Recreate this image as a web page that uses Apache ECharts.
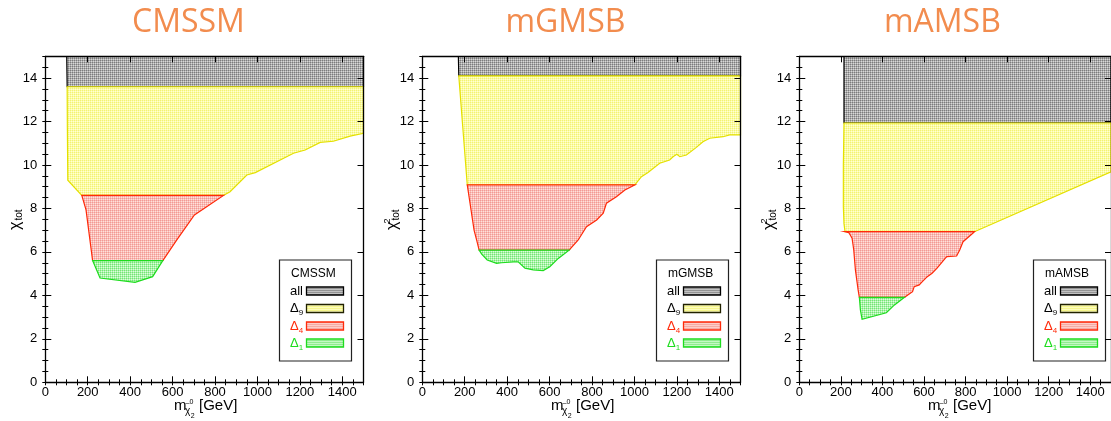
<!DOCTYPE html>
<html>
<head>
<meta charset="utf-8">
<script src="https://cdn.jsdelivr.net/npm/echarts@6/dist/echarts.min.js"></script>
<style>
  html, body { margin: 0; padding: 0; background: #fff; }
  #chart { width: 1111px; height: 421px; }
</style>
</head>
<body>
<div id="chart"></div>
<script>
// Model names (panel titles and legend headers)
const models = ['CMSSM', 'mGMSB', 'mAMSB'];

// Lower envelope of chi^2_tot versus m(neutralino_2) [GeV, chi2] for each model
const cmssmBoundary = [[101, 15], [103, 13.6], [104, 11.7], [106, 9.3], [172, 8.6], [192, 7.93], [223, 5.6],
  [258, 4.8], [423, 4.6], [506, 4.86], [554, 5.6], [620, 6.55], [703, 7.7], [840, 8.6], [871, 8.77],
  [950, 9.54], [990, 9.65], [1170, 10.54], [1225, 10.69], [1296, 11.04], [1358, 11.09], [1437, 11.33],
  [1500, 11.46]];
const mgmsbBoundary = [[170, 15], [172, 14.1], [193, 11.46], [212, 9.08], [225, 8.24], [244, 7.0],
  [256, 6.55], [268, 6.08], [280, 5.9], [306, 5.63], [350, 5.47], [373, 5.5], [429, 5.54], [452, 5.54],
  [484, 5.25], [523, 5.17], [570, 5.14], [601, 5.32], [641, 5.7], [692, 6.08], [735, 6.55], [774, 7.16],
  [822, 7.47], [853, 7.78], [868, 8.24], [915, 8.54], [955, 8.85], [1002, 9.08], [1033, 9.46],
  [1064, 9.65], [1119, 10.08], [1166, 10.23], [1182, 10.38], [1200, 10.49], [1214, 10.38], [1245, 10.46],
  [1292, 10.81], [1323, 11.07], [1355, 11.23], [1418, 11.3], [1449, 11.38], [1500, 11.38]];
const mamsbBoundary = [[215, 15], [215, 11.93], [212, 10.0], [212, 8.08], [215, 7.3], [220, 6.93],
  [238, 6.89], [254, 6.63], [262, 6.09], [270, 5.17], [283, 4.25], [289, 3.91], [294, 3.33], [302, 2.9],
  [419, 3.2], [458, 3.56], [506, 3.91], [545, 4.17], [553, 4.4], [577, 4.48], [592, 4.63], [616, 4.86],
  [639, 5.02], [663, 5.25], [702, 5.7], [710, 5.78], [757, 5.81], [772, 6.09], [788, 6.47], [835, 6.86],
  [843, 6.93], [1500, 9.68]];

// chi^2 levels bounding the Delta_1, Delta_4, Delta_9 bands
const cmssmLevels = [5.6, 8.6, 13.6];
const mgmsbLevels = [6.08, 9.08, 14.1];
const mamsbLevels = [3.91, 6.93, 11.93];

// Legend entries (label, subscript)
const bandLabels = [['all', ''], ['Δ', '9'], ['Δ', '4'], ['Δ', '1']];

// Axis ranges and tick steps
const xRange = [0, 1500];
const yRange = [0, 15];
const xMajor = 200, xMinor = 50;
const yMajor = 2, yMinor = 0.5;

const boundaries = [cmssmBoundary, mgmsbBoundary, mamsbBoundary];
const levels = [cmssmLevels, mgmsbLevels, mamsbLevels];

// ---- styling ----
const gridLefts = [45.3, 422.3, 799.3];
const gridTop = 56.3, gridW = 318.2, gridH = 326;
const TICK_FONT = 'Liberation Sans';

// 2x2 dotted texture: dark / mid / mid / light
function makePattern(dark, mid, light) {
  const c = document.createElement('canvas');
  c.width = 2; c.height = 2;
  const g = c.getContext('2d');
  g.fillStyle = dark; g.fillRect(0, 0, 1, 1);
  g.fillStyle = mid; g.fillRect(1, 0, 1, 1); g.fillRect(0, 1, 1, 1);
  g.fillStyle = light; g.fillRect(1, 1, 1, 1);
  return { type: 'pattern', image: c, repeat: 'repeat' };
}
// band order: all, Delta_9, Delta_4, Delta_1
const bandFill = [
  makePattern('#7c7c7c', '#acacac', '#d8d8d8'),
  makePattern('#f2f274', '#fcfca4', '#ffffd4'),
  makePattern('#f29a94', '#f9bcb6', '#ffe0dc'),
  makePattern('#74e674', '#aaf2aa', '#dcffdc')
];
const bandStroke = ['#000000', '#e4e000', '#ff2a0a', '#1edc1e'];
const swatchStroke = ['#000000', '#222200', '#ff2a0a', '#1edc1e'];
const labelColor = ['#000000', '#000000', '#ff2a0a', '#1edc1e'];

// ---- polygon clipping against horizontal lines ----
function cut(p, q, h) {
  const t = (h - p[1]) / (q[1] - p[1]);
  return [p[0] + t * (q[0] - p[0]), h];
}
function clipHalf(poly, h, keepBelow) {
  const inside = pt => keepBelow ? pt[1] <= h : pt[1] >= h;
  const out = [];
  for (let i = 0; i < poly.length; i++) {
    const cur = poly[i], prev = poly[(i - 1 + poly.length) % poly.length];
    const ci = inside(cur), pi = inside(prev);
    if (ci) {
      if (!pi) out.push(cut(prev, cur, h));
      out.push(cur);
    } else if (pi) {
      out.push(cut(prev, cur, h));
    }
  }
  return out;
}
function bandPolygon(boundary, lo, hi) {
  const last = boundary[boundary.length - 1];
  let poly = boundary.slice();
  poly.push([last[0], yRange[1]]);
  poly = clipHalf(poly, hi, true);
  poly = clipHalf(poly, lo, false);
  return poly;
}

// ---- axes ----
const xAxes = [], yAxes = [];
const tickLabel = { fontSize: 13, fontFamily: TICK_FONT, color: '#000', formatter: v => String(v) };
gridLefts.forEach((_, gi) => {
  const xb = { type: 'value', gridIndex: gi, min: xRange[0], max: xRange[1], z: 10, splitLine: { show: false } };
  const yb = { type: 'value', gridIndex: gi, min: yRange[0], max: yRange[1], z: 10, splitLine: { show: false } };
  const line = { show: true, onZero: false, lineStyle: { color: '#000', width: 1.3 } };
  const noLine = { show: false };
  const major = { show: true, inside: true, length: 6, lineStyle: { color: '#000', width: 1 } };
  const minor = { show: true, inside: true, length: 3, lineStyle: { color: '#000', width: 1 } };
  xAxes.push(
    Object.assign({}, xb, { position: 'bottom', interval: xMajor, axisLine: line, axisTick: major,
      axisLabel: Object.assign({ margin: 4, showMaxLabel: false }, tickLabel) }),
    Object.assign({}, xb, { position: 'bottom', interval: xMinor, axisLine: noLine, axisTick: minor, axisLabel: { show: false } }),
    Object.assign({}, xb, { position: 'top', interval: xMajor, axisLine: line, axisTick: major, axisLabel: { show: false } }),
    Object.assign({}, xb, { position: 'top', interval: xMinor, axisLine: noLine, axisTick: minor, axisLabel: { show: false } })
  );
  yAxes.push(
    Object.assign({}, yb, { position: 'left', interval: yMajor, axisLine: line, axisTick: major,
      axisLabel: Object.assign({ margin: 8, showMaxLabel: false }, tickLabel) }),
    Object.assign({}, yb, { position: 'left', interval: yMinor, axisLine: noLine, axisTick: minor, axisLabel: { show: false } }),
    Object.assign({}, yb, { position: 'right', interval: yMajor, axisLine: line, axisTick: major, axisLabel: { show: false } }),
    Object.assign({}, yb, { position: 'right', interval: yMinor, axisLine: noLine, axisTick: minor, axisLabel: { show: false } })
  );
});

// ---- filled bands ----
const series = [];
boundaries.forEach((boundary, gi) => {
  const lv = levels[gi];
  const bounds = [[lv[2], yRange[1]], [lv[1], lv[2]], [lv[0], lv[1]], [yRange[0], lv[0]]];
  bounds.forEach((b, bi) => {
    const poly = bandPolygon(boundary, b[0], b[1]);
    series.push({
      type: 'custom',
      xAxisIndex: gi * 4,
      yAxisIndex: gi * 4,
      clip: true,
      silent: true,
      z: 2 + bi,
      data: poly,
      renderItem: (params, api) => {
        if (params.dataIndex !== 0) return null;
        return {
          type: 'polygon',
          shape: { points: poly.map(p => api.coord(p)) },
          style: { fill: bandFill[bi], stroke: bandStroke[bi], lineWidth: 1.2 }
        };
      }
    });
  });
});

// ---- titles, axis names, legends ----
const graphic = [];
gridLefts.forEach((L, gi) => {
  const R = L + gridW;
  const cx = L + gridW / 2;
  // panel title
  graphic.push({ type: 'text', x: cx - 16, y: 22.5, style: { text: models[gi], font: '32px "Open Sans"', fill: '#f28c4e', align: 'center', verticalAlign: 'middle' } });

  // x-axis name: m_{chi~0_2} [GeV]
  graphic.push(
    { type: 'text', x: L + 128.7, y: 405.5, style: { text: 'm', font: '15px "Liberation Sans"', fill: '#000', align: 'left', verticalAlign: 'middle' } },
    { type: 'text', x: L + 139.7, y: 411.5, style: { text: 'χ', font: '10px "Liberation Sans"', fill: '#000', align: 'left', verticalAlign: 'middle' } },
    { type: 'text', x: L + 142.3, y: 403.5, style: { text: '~', font: '8px "Liberation Sans"', fill: '#000', align: 'center', verticalAlign: 'middle' } },
    { type: 'text', x: L + 144.2, y: 402.5, style: { text: '0', font: '7px "Liberation Sans"', fill: '#000', align: 'left', verticalAlign: 'middle' } },
    { type: 'text', x: L + 145.4, y: 416, style: { text: '2', font: '7px "Liberation Sans"', fill: '#000', align: 'left', verticalAlign: 'middle' } },
    { type: 'text', x: L + 153.7, y: 405.5, style: { text: '[GeV]', font: '15px "Liberation Sans"', fill: '#000', align: 'left', verticalAlign: 'middle' } }
  );

  // y-axis name: chi^2_tot (rotated)
  const yName = [
    { type: 'text', x: 0, y: 0, style: { text: 'χ', font: '16px "Liberation Sans"', fill: '#000', align: 'left', verticalAlign: 'middle' } },
    { type: 'text', x: 9.5, y: 3, style: { text: 'tot', font: '10px "Liberation Sans"', fill: '#000', align: 'left', verticalAlign: 'middle' } }
  ];
  if (gi > 0) {
    yName.push({ type: 'text', x: 6.5, y: -5.5, style: { text: '2', font: '9px "Liberation Sans"', fill: '#000', align: 'left', verticalAlign: 'middle' } });
  }
  graphic.push({ type: 'group', x: L - 29.5, y: 230, rotation: Math.PI / 2, children: yName });

  // legend box
  const bx = R - 84, by = 260;
  const kids = [
    { type: 'rect', shape: { x: 0, y: 0, width: 72, height: 101 }, style: { fill: '#fff', stroke: '#222', lineWidth: 1.2 } },
    { type: 'text', x: 11.5, y: 13.5, style: { text: models[gi], font: '12px "Liberation Sans"', fill: '#000', align: 'left', verticalAlign: 'middle' } }
  ];
  const rowY = [31, 48.5, 66, 83];
  bandLabels.forEach((lab, bi) => {
    const yy = rowY[bi];
    kids.push({ type: 'text', x: 10.5, y: yy, style: { text: lab[0], font: '13px "Liberation Sans"', fill: labelColor[bi], align: 'left', verticalAlign: 'middle' } });
    if (lab[1]) {
      kids.push({ type: 'text', x: 19.2, y: yy + 4.5, style: { text: lab[1], font: '8px "Liberation Sans"', fill: labelColor[bi], align: 'left', verticalAlign: 'middle' } });
    }
    kids.push({ type: 'rect', shape: { x: 27, y: yy - 4, width: 37, height: 8 }, style: { fill: bandFill[bi], stroke: swatchStroke[bi], lineWidth: 1.3 } });
  });
  graphic.push({ type: 'group', x: bx, y: by, z: 20, children: kids });
});

const chart = echarts.init(document.getElementById('chart'), null, { renderer: 'canvas' });
chart.setOption({
  animation: false,
  backgroundColor: '#fff',
  grid: gridLefts.map(L => ({ left: L, top: gridTop, width: gridW, height: gridH, containLabel: false })),
  xAxis: xAxes,
  yAxis: yAxes,
  series: series,
  graphic: graphic
});
</script>
</body>
</html>
